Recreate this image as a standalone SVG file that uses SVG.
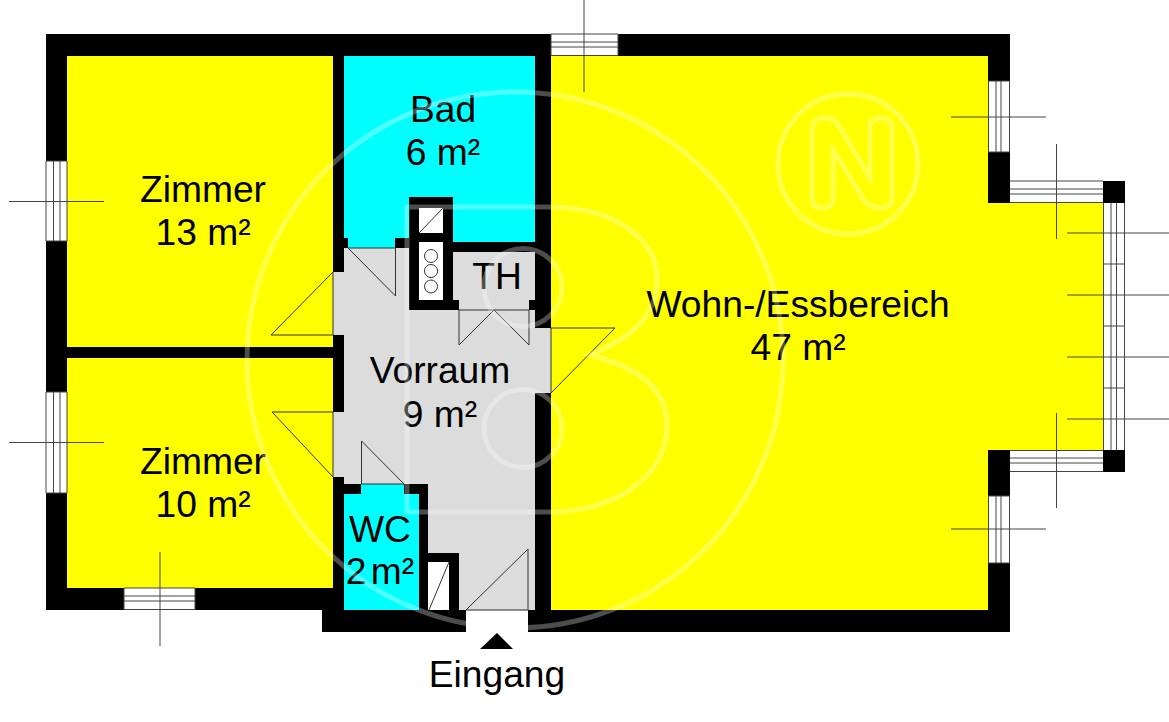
<svg xmlns="http://www.w3.org/2000/svg" width="1169" height="722" viewBox="0 0 1169 722">
<style>
.lb{font-family:"Liberation Sans",Arial,sans-serif;font-size:37.2px;fill:#000;text-anchor:middle}
.y{fill:#ff0}.c{fill:#0ff}.g{fill:#dcdcdc}.k{fill:#000}.w{fill:#fff}
.t{fill:none;stroke:#333;stroke-width:1}
.f{fill:none;stroke:#444;stroke-width:1}
.wm{fill:none;stroke:#fff;stroke-opacity:.3;stroke-width:5}
</style>
<rect width="1169" height="722" fill="#fff"/>
<g id="walls">
<path class="k" d="M46 34H1010V632H322V610H46Z"/>
<rect class="k" x="1103" y="181" width="22" height="22"/>
<rect class="k" x="1103" y="450" width="22" height="22"/>
</g>
<g id="room-zimmer-13"><rect class="y" x="67" y="56" width="266" height="291"/></g>
<g id="room-zimmer-10"><rect class="y" x="67" y="358" width="266" height="230"/></g>
<g id="room-bad"><path class="c" d="M344 56H535V242H453V197H409V238H395V248H348V238H344Z"/></g>
<g id="room-wc"><path class="c" d="M344 494H361V484H404V494H419V610H344Z"/></g>
<g id="room-vorraum"><path class="g" d="M344 248H409V310H459V300H453V252H535V300H529V310H535V328H551V393H535V610H459V553H428V484H344V477H333V412H344V335H333V272H344Z"/></g>
<g id="room-wohn"><path class="y" d="M551 56H988V203H1104V450H988V610H551Z"/></g>
<g id="shafts">
<rect class="w" x="419" y="208" width="24" height="25"/>
<path class="t" d="M419 233L443 208"/>
<rect class="w" x="419" y="242" width="24" height="58"/>
<circle class="t" cx="431" cy="256" r="6.5"/>
<circle class="t" cx="431" cy="271" r="6.5"/>
<circle class="t" cx="431" cy="286.500" r="6.500"/>
<rect class="w" x="428" y="562" width="21" height="48"/>
<path class="t" d="M429 610L449 562"/>
</g>
<g id="windows">
<g class="w">
<rect x="46" y="161" width="21" height="80"/>
<rect x="46" y="392" width="21" height="101"/>
<rect x="124" y="588" width="71" height="22"/>
<rect x="551" y="34" width="67" height="22"/>
<rect x="988" y="81" width="22" height="71"/>
<rect x="988" y="496" width="22" height="67"/>
<rect x="1010" y="181" width="93" height="22"/>
<rect x="1010" y="450" width="93" height="22"/>
<rect x="1104" y="203" width="21" height="247"/>
</g>
<path class="f" d="M46 161V241M53.500 161V241M60 161V241M67 161V241M46 161H67M46 241H67M9 201.500H104"/>
<path class="f" d="M46 392V493M53.500 392V493M60 392V493M67 392V493M46 392H67M46 493H67M9 442.500H104"/>
<path class="f" d="M124 588H195M124 596H195M124 601H195M124 609.500H195M124 588V610M195 588V610M160 552V646"/>
<path class="f" d="M551 34H618M551 42H618M551 47H618M551 55.500H618M551 34V56M618 34V56M584 0V92"/>
<path class="f" d="M988.500 81V152M996 81V152M1001 81V152M1009.500 81V152M988 81H1010M988 152H1010M951 117H1046"/>
<path class="f" d="M988.500 496V563M996 496V563M1001 496V563M1009.500 496V563M988 496H1010M988 563H1010M951 529H1046"/>
<path class="f" d="M1010 181H1103M1010 189H1103M1010 194H1103M1010 202.500H1103M1056.500 144V239"/>
<path class="f" d="M1010 450.500H1103M1010 458H1103M1010 463H1103M1010 471.500H1103M1056.500 413V508"/>
<path class="f" d="M1103.500 203V450M1111 203V450M1116.500 203V450M1124.500 203V450M1104 264H1125M1104 326H1125M1104 388H1125M1067 233H1169M1067 295H1169M1067 357H1169M1067 419H1169"/>
</g>
<g id="connectors">
<path class="t" d="M333 272L271 335H333M333 272V335"/>
<path class="t" d="M333 412H272L333 477M333 412V477"/>
<path class="t" d="M348 248L395.500 296V248H348"/>
<path class="t" d="M459 310V345L494 310L529 345V310H459"/>
<path class="t" d="M551 328H615L551 393M551 328V393"/>
<path class="t" d="M361.500 484V441L404 484H361.500"/>
<path class="t" d="M466 610L528 549V610H466"/>
</g>
<g id="entrance">
<rect class="w" x="466" y="610.500" width="62" height="22"/>
<path class="k" d="M497 633L513 649H480Z"/>
<text class="lb" x="497" y="687">Eingang</text>
</g>
<g id="labels">
<text class="lb" x="203" y="202">Zimmer</text><text class="lb" x="203" y="245">13 m²</text>
<text class="lb" x="203" y="474">Zimmer</text><text class="lb" x="203" y="517">10 m²</text>
<text class="lb" x="443" y="122">Bad</text><text class="lb" x="443" y="165">6 m²</text>
<text class="lb" x="497" y="289">TH</text>
<text class="lb" x="440" y="383">Vorraum</text><text class="lb" x="440" y="427">9 m²</text>
<text class="lb" x="380" y="542">WC</text><text class="lb" x="380" y="584" word-spacing="-6">2 m²</text>
<text class="lb" x="798" y="317">Wohn-/Essbereich</text><text class="lb" x="798" y="360">47 m²</text>
</g>
<g id="watermark">
<circle class="wm" cx="515" cy="360" r="268"/>
<path class="wm" d="M407 512V207H548C610 207 657 235 657 280C657 320 625 340 590 355C630 365 667 385 667 425C667 480 610 512 550 512Z"/>
<circle class="wm" cx="523" cy="287.500" r="39"/>
<circle class="wm" cx="523" cy="428.500" r="39"/>
<circle class="wm" stroke-width="4" cx="848" cy="164" r="70"/>
<path class="wm" stroke-width="3.500" d="M812 130Q812 118 824 118Q834 118 838 124L870 178V128Q870 118 881 118Q892 118 892 128V198Q892 208 880 208Q870 208 864 200L833 150V198Q833 208 822.500 208Q812 208 812 198Z"/>
</g>
</svg>
